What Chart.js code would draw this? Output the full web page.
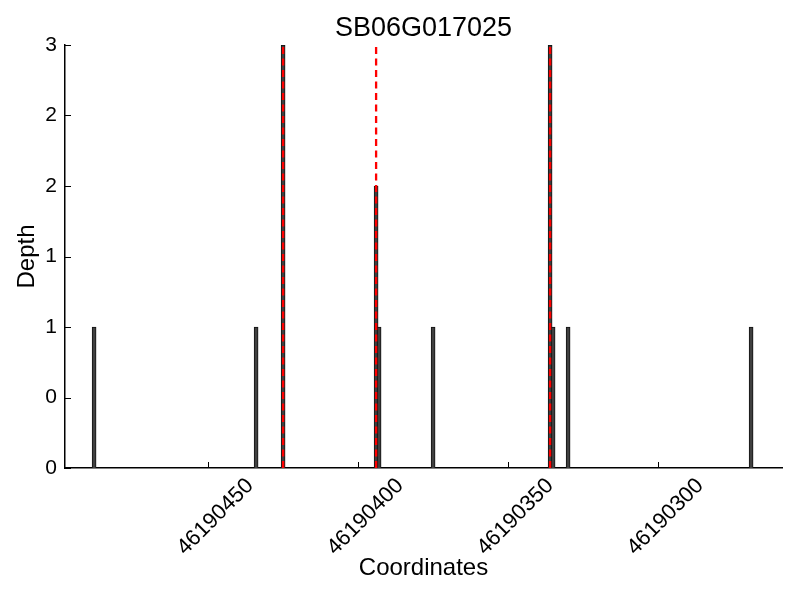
<!DOCTYPE html>
<html>
<head>
<meta charset="utf-8">
<script src="https://cdn.jsdelivr.net/npm/chart.js@4.4.1/dist/chart.umd.min.js"></script>
<style>
  html, body { margin: 0; padding: 0; background: #fff; }
  #wrap { width: 800px; height: 600px; }
</style>
</head>
<body>
<div id="wrap"><canvas id="depthChart"></canvas></div>
<script>
// data
const geneName = 'SB06G017025';
const positions = [46190488, 46190434, 46190425, 46190394, 46190393, 46190375, 46190336, 46190335, 46190330, 46190269];
const depths = [1, 1, 3, 2, 1, 1, 3, 1, 1, 1];
const markers = [46190425, 46190394, 46190336];
const xTicks = [46190450, 46190400, 46190350, 46190300];
const yTicks = [0, 0.5, 1, 1.5, 2, 2.5, 3];
const xMin = 46190258.7;
const xMax = 46190497.7;

Chart.defaults.font.family = '"Liberation Sans", Arial, sans-serif';
Chart.defaults.color = '#000';

// small tick marks pointing into the plot
const innerTicks = {
    id: 'innerTicks',
    afterDatasetsDraw(chart) {
        const ctx = chart.ctx;
        const sx = chart.scales.x, sy = chart.scales.y;
        const area = chart.chartArea;
        ctx.save();
        ctx.strokeStyle = '#000';
        ctx.lineWidth = 1;
        ctx.beginPath();
        xTicks.forEach(v => {
            const px = Math.round(sx.getPixelForValue(v)) + 0.5;
            ctx.moveTo(px, area.bottom);
            ctx.lineTo(px, area.bottom - 6);
        });
        yTicks.forEach(v => {
            const py = Math.round(sy.getPixelForValue(v)) + 0.5;
            ctx.moveTo(area.left, py);
            ctx.lineTo(area.left + 6, py);
        });
        ctx.stroke();
        ctx.restore();
    }
};

const datasets = [{
    type: 'bar',
    data: positions.map((p, i) => ({x: p, y: depths[i]})),
    backgroundColor: '#404040',
    borderColor: '#111',
    borderWidth: 1,
    barThickness: 4,
    order: 2,
}];

markers.forEach(m => {
    datasets.push({
        type: 'line',
        data: [{x: m, y: 0}, {x: m, y: 3}],
        borderColor: '#ff0000',
        borderWidth: 2.3,
        borderDash: [7, 4.5],
        pointRadius: 0,
        fill: false,
        order: 1,
    });
});

new Chart(document.getElementById('depthChart'), {
    type: 'bar',
    data: { datasets: datasets },
    options: {
        responsive: true,
        maintainAspectRatio: false,
        animation: false,
        layout: { padding: { left: 0, right: 18, top: 0, bottom: 0 } },
        plugins: {
            legend: { display: false },
            tooltip: { enabled: false },
            title: {
                display: true,
                fullSize: false,
                text: geneName,
                color: '#000',
                font: { size: 27, weight: 'normal', lineHeight: 1 },
                padding: { top: 15, bottom: 3 },
            },
        },
        scales: {
            x: {
                type: 'linear',
                reverse: true,
                min: xMin,
                max: xMax,
                offset: false,
                afterBuildTicks: s => { s.ticks = xTicks.map(v => ({value: v})); },
                afterFit: s => { s.height = 132; },
                grid: { display: false, drawTicks: false },
                border: { display: true, color: '#000', width: 1.5 },
                ticks: {
                    autoSkip: false,
                    minRotation: 45,
                    maxRotation: 45,
                    labelOffset: 42,
                    padding: 5,
                    color: '#000',
                    font: { size: 22 },
                    callback: v => String(v),
                },
                title: {
                    display: true,
                    text: 'Coordinates',
                    color: '#000',
                    font: { size: 24, lineHeight: 1 },
                    padding: { top: 0, bottom: 20 },
                },
            },
            y: {
                min: 0,
                max: 3,
                afterBuildTicks: s => { s.ticks = yTicks.map(v => ({value: v})); },
                afterFit: s => { s.width = 65; },
                grid: { display: false, drawTicks: false },
                border: { display: true, color: '#000', width: 1.5 },
                ticks: {
                    padding: 8,
                    color: '#000',
                    font: { size: 21 },
                    callback: v => Math.floor(v),
                },
                title: {
                    display: true,
                    text: 'Depth',
                    color: '#000',
                    font: { size: 24, lineHeight: 1 },
                    padding: { top: 15, bottom: 0 },
                },
            },
        },
    },
    plugins: [innerTicks],
});
</script>
</body>
</html>
